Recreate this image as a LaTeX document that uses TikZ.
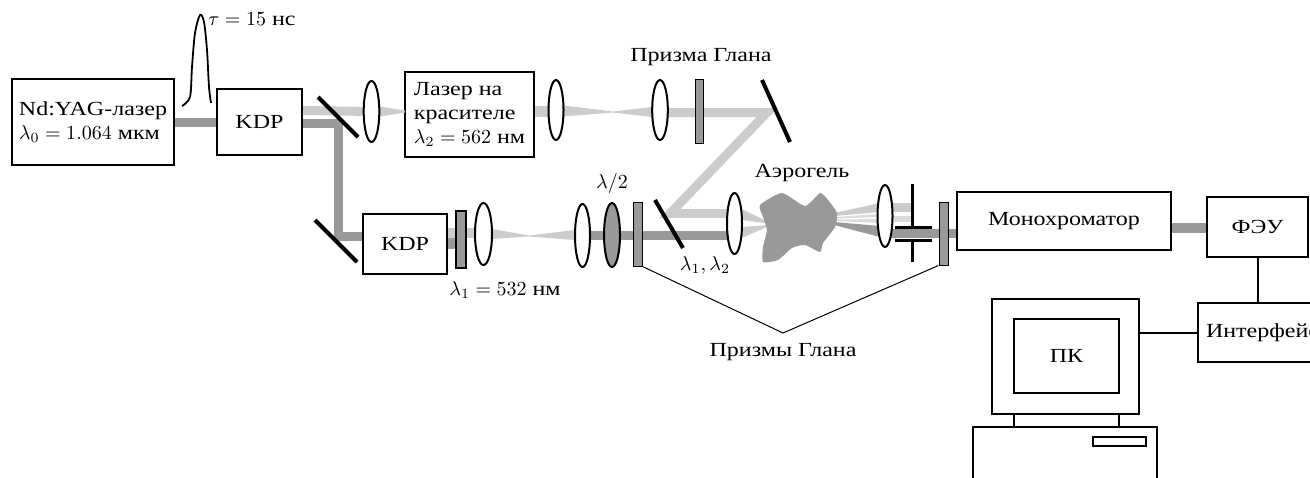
\documentclass[tikz,border=0pt]{standalone}
\usepackage{fontspec}
\setmainfont{Liberation Serif}[FakeStretch=1.2]
\usetikzlibrary{shapes.geometric}
\definecolor{beamdark}{gray}{0.6}
\definecolor{beamlight}{gray}{0.8}
\definecolor{beampale}{gray}{0.86}
\definecolor{plategray}{gray}{0.6}
\definecolor{aerogray}{gray}{0.6}
\begin{document}
\begin{tikzpicture}[x=0.5pt,y=-0.5pt,
  font=\fontsize{10}{11.8}\selectfont,
  box/.style={draw, line width=1pt, fill=white, inner sep=0pt},
  lens/.style={draw, ellipse, line width=1pt, fill=white, inner sep=0pt,
    minimum width=7.8pt, minimum height=31pt},
  plate/.style={draw, fill=plategray, line width=0.5pt, inner sep=0pt,
    minimum width=4.5pt, minimum height=32pt},
  mirror/.style={line width=2pt},
  dbeam/.style={draw=beamdark, line width=4.5pt, line join=miter},
  lbeam/.style={draw=beamlight, line width=4.5pt, line join=miter},
  wire/.style={line width=1pt},
  leader/.style={line width=0.5pt},
  stopline/.style={line width=1.5pt},
  outline/.style={line width=1pt},
  lbl/.style={inner sep=1pt}
]
\useasboundingbox (0,0) rectangle (1310,477);
\clip (0,0) rectangle (1310,477);

% ---- boxes (placed first so beams can refer to them) ----
\node[box, minimum width=81pt, minimum height=43pt, align=left] (yag) at (93,122)
  {Nd:YAG-лазер\\$\lambda_0 = 1.064$ мкм};
\node[box, minimum width=42.5pt, minimum height=33pt] (kdp1) at (259.5,122) {KDP};
\node[box, minimum width=64.5pt, minimum height=42.5pt, align=left] (dye) at (469.5,114.5)
  {Лазер на\\красителе\\$\lambda_2 = 562$ нм};
\node[box, minimum width=42pt, minimum height=30pt] (kdp2) at (405,244) {KDP};
\node[box, minimum width=107pt, minimum height=29pt] (mono) at (1064,221) {Монохроматор};
\node[box, minimum width=50.5pt, minimum height=30pt] (feu) at (1257.5,227) {ФЭУ};
\node[box, anchor=west, minimum height=29.5pt, inner xsep=4pt, text width=62pt,
  align=left] (iface) at (1197,332.5) {Интерфейс};

% ---- optics positions ----
\coordinate (L1c) at (371.5,111.5);
\coordinate (L4c) at (734.5,223.5);
\coordinate (L5c) at (483.5,234);
\coordinate (L6c) at (582.5,235.5);
\coordinate (L7c) at (885,216);

% ---- beams ----
\draw[dbeam] (yag.east) -- (kdp1.west);
\draw[dbeam] (kdp1.east |- 0,123) -- (338,123) -- (338,236) -- (kdp2.west |- 0,236);
\draw[lbeam] (kdp1.east |- 0,110.5) -- (L1c);
\fill[beamlight] (380,106.5) -- (405,110.5) -- (405,112.5) -- (380,116.5) -- cycle;
\draw[lbeam, line width=5.5pt] (dye.east |- 0,111) -- (556,111);
\fill[beamlight] (563,105.5) -- (613,111.5) -- (652,107) -- (652,117)
  -- (613,112.5) -- (563,116.5) -- cycle;
\draw[lbeam] (660,112.5) -- (767,112.5) -- (670,213.5) -- (L4c |- 0,213.5);
\draw[lbeam, line width=5pt] (kdp2.east |- 0,233) -- (L5c |- 0,233);
\draw[dbeam, line width=5.5pt] (kdp2.east |- 0,243.5) -- (461,243.5);
\fill[beamlight] (492,229) -- (529,235.5) -- (575,230) -- (575,240)
  -- (529,236.5) -- (492,239) -- cycle;
\draw[dbeam] (L6c |- 0,235) -- (L4c |- 0,235);
\fill[beamlight] (742,209) -- (768,222) -- (768,223.5) -- (742,220) -- cycle;
\fill[beamlight] (742,227) -- (768,225) -- (768,226.5) -- (742,238) -- cycle;
% scattered light towards the collecting lens
\fill[beamlight] (834,213) -- (880,203) -- (880,212) -- (834,216) -- cycle;
\fill[beampale] (834,217) -- (880,214) -- (880,217) -- (834,218.5) -- cycle;
\fill[beampale] (834,219.5) -- (880,219) -- (880,223) -- (834,221) -- cycle;
\fill[beamdark] (834,222) -- (880,226) -- (880,237) -- (834,225) -- cycle;
\fill[beamlight] (890,203) rectangle (912,212);
\fill[beampale] (890,216) rectangle (912,222);
\draw[dbeam] (L7c |- 0,233) -- (mono.west |- 0,233);
\draw[dbeam, line width=5pt] (mono.east |- 0,228) -- (feu.west |- 0,228);

% ---- aerogel sample ----
\fill[aerogray] plot[smooth cycle, tension=0.35] coordinates {
  (760,205) (782,193) (805,206) (820,193) (828,200) (837,213) (835,227)
  (823,243) (820,252) (805,245) (792,248) (778,260) (763,262) (763,247)
  (767,230) (763,217)};

% ---- lenses ----
\node[lens, minimum height=30.5pt] (L1) at (L1c) {};
\node[lens, minimum height=30pt, minimum width=7.5pt] (L2) at (556,110) {};
\node[lens, minimum height=30pt] (L3) at (660,110) {};
\node[lens, minimum height=30.5pt, minimum width=7.5pt] (L4) at (L4c) {};
\node[lens, minimum width=8.5pt] (L5) at (L5c) {};
\node[lens, minimum height=31.5pt, minimum width=7.5pt] (L6) at (L6c) {};
\node[lens, fill=plategray, minimum height=32pt, minimum width=8pt] (HW) at (612,235) {};
\node[lens, minimum width=7.5pt] (L7) at (L7c) {};

% ---- plates: filter and Glan prisms ----
\node[plate, draw=black, line width=1pt, minimum width=5pt, minimum height=28.5pt] (F) at (461,239.5) {};
\node[plate, minimum width=4pt] (G1) at (699,111) {};
\node[plate] (G2) at (637.5,234) {};
\node[plate, minimum height=31.5pt] (G3) at (943.5,233.5) {};

% ---- mirrors ----
\draw[mirror] (318,97) -- (358,137);
\draw[mirror] (315,220) -- (357,262);
\draw[mirror] (762,80) -- (790,142);
\draw[mirror] (655,200) -- (683,248);

% ---- aperture stop ----
\draw[stopline] (912,184) -- (912,227) (895,227) -- (932,227);
\draw[stopline] (895,240) -- (932,240) (912,240) -- (912,262);

% ---- laser pulse ----
\draw[line width=0.9pt] plot[smooth, tension=0.5] coordinates {
  (182,106) (190,97) (192,67) (195,33) (200,15) (204,22) (207,50) (209,87) (211,103)};

% ---- computer ----
\node[box, minimum width=73.5pt, minimum height=57.5pt] (pc) at (1065.5,356.5) {};
\node[box, minimum width=52.5pt, minimum height=37pt] (screen) at (1066.5,356) {ПК};
\draw[outline] (1014,414) rectangle (1119,427);
\draw[outline] (973,490) -- (973,427) -- (1157,427) -- (1157,490);
\draw[outline] (1093,437) rectangle (1146,446);

% ---- connections ----
\draw[wire] (feu.south) -- (feu.south |- iface.north);
\draw[wire] (pc.east |- 0,333) -- (iface.west |- 0,333);
\coordinate (apex) at (783,333);
\draw[leader] (G2.south east) -- (apex) -- (G3.south west);

% ---- labels ----
\node[lbl] (tau) at (252,19) {$\tau = 15$ нс};
\node[lbl] (glan1) at (701,57) {Призма Глана};
\node[lbl] (half) at (612,183) {$\lambda/2$};
\node[lbl] (aero) at (802,173) {Аэрогель};
\node[lbl] (lams) at (705,265) {$\lambda_1, \lambda_2$};
\node[lbl] (lam1) at (505,290) {$\lambda_1 = 532$ нм};
\node[lbl] (glans) at (783,352) {Призмы Глана};
\end{tikzpicture}
\end{document}
